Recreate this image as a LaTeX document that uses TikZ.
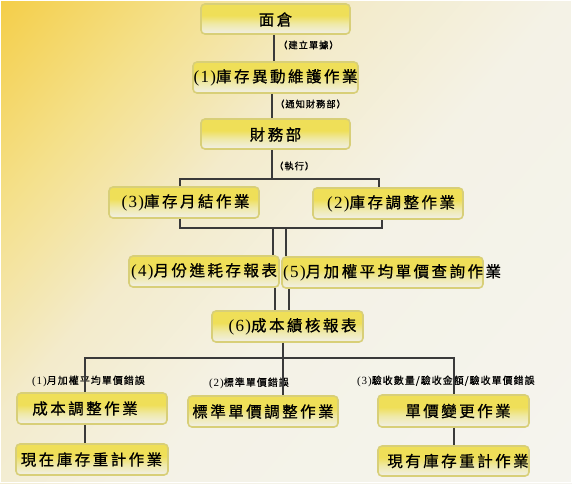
\documentclass[tikz,border=0pt]{standalone}
\usepackage{fontspec}
\setmainfont{Noto Sans CJK TC}
\newfontfamily\bigf[LetterSpace=16,FakeBold=0.8]{Noto Sans CJK TC}
\newfontfamily\smallf[LetterSpace=10,FakeBold=0.6]{Noto Sans CJK TC}
\newfontfamily\latf[LetterSpace=8]{Liberation Serif}
\definecolor{bgA}{HTML}{F4CE48}
\definecolor{bgB}{HTML}{F4E08A}
\definecolor{bgC}{HTML}{F3EBCB}
\definecolor{bgD}{HTML}{F4F2E6}
\definecolor{bgE}{HTML}{F5F4EF}
\definecolor{boxtop}{HTML}{EFDF58}
\definecolor{boxmid}{HTML}{EFE9A8}
\definecolor{boxbot}{HTML}{F1EFE4}
\definecolor{boxline}{HTML}{D8CF78}
\definecolor{wire}{HTML}{3A3A3A}
\pgfdeclarehorizontalshading{bgsh}{100bp}{color(0bp)=(bgA); color(25bp)=(bgA); color(34bp)=(bgB); color(43bp)=(bgC); color(53bp)=(bgD); color(75bp)=(bgE); color(100bp)=(bgE)}
\pgfdeclareverticalshading{boxsh}{100bp}{color(0bp)=(boxbot); color(26bp)=(boxbot); color(42bp)=(boxmid); color(56bp)=(boxtop); color(100bp)=(boxtop)}
\newcommand\pn[1]{{\latf\fontsize{17}{17}\selectfont #1}}
\newcommand\pns[1]{{\latf\fontsize{11}{11}\selectfont #1}}
\tikzset{
  boxst/.style={draw=boxline, line width=1.6pt, rounded corners=4pt, shade, shading=boxsh, inner sep=0pt},
  bt/.style={font=\bigf\fontsize{15.5}{15.5}\selectfont, inner sep=0pt},
  lbu/.style={font=\smallf\fontsize{9.3}{9.5}\selectfont, inner sep=0pt, anchor=west},
  lbl/.style={font=\smallf\fontsize{10}{10}\selectfont, inner sep=0pt, anchor=west},
  wirest/.style={draw=wire, line width=1.6pt}
}
\newcommand\bx[5]{\node[boxst, minimum width={#4-#2}, minimum height={#5-#3}] (#1) at ({(#2+#4)/2},{(#3+#5)/2}) {};}
\begin{document}
\begin{tikzpicture}[x=1pt,y=-1pt]
\useasboundingbox (0,0) rectangle (572,483);
\begin{scope}
\clip (0,0) rectangle (572,483);
\shade[transform canvas={rotate=-41}, shading=bgsh] (0,-400) rectangle (760,400);
\end{scope}
\draw[white, line width=1.2pt] (0.6,0.6) rectangle (571.4,482.4);
% boxes
\bx{A}{201}{4}{350}{34}
\bx{B}{193}{62}{358}{93}
\bx{C}{201}{119}{350}{149}
\bx{D}{109}{187}{259}{218}
\bx{E}{313}{188}{463}{219}
\bx{F}{129}{256}{279}{287}
\bx{G}{282}{257}{483}{288}
\bx{H}{212}{311}{363}{342}
\bx{I}{17}{393}{167}{424}
\bx{J}{188}{396}{338}{427}
\bx{K}{378}{395}{529}{427}
\bx{L}{16}{444}{168}{475}
\bx{M}{378}{446}{529}{476}
% box texts
\node[bt] (At) at (275.5,19.5) {面倉};
\node[bt] (Bt) at (275.5,77.5) {\pn{(1)}庫存異動維護作業};
\node[bt] (Ct) at (275.5,134.5) {財務部};
\node[bt] (Dt) at (185.5,202.5) {\pn{(3)}庫存月結作業};
\node[bt] (Et) at (391,203.5) {\pn{(2)}庫存調整作業};
\node[bt] (Ft) at (204,271.5) {\pn{(4)}月份進耗存報表};
\node[bt, anchor=west] (Gt) at (283,272.5) {\pn{(5)}月加權平均單價查詢作業};
\node[bt] (Ht) at (292.5,326.5) {\pn{(6)}成本績核報表};
\node[bt] (It) at (85,408.5) {成本調整作業};
\node[bt] (Jt) at (263,411.5) {標準單價調整作業};
\node[bt] (Kt) at (458,411) {單價變更作業};
\node[bt] (Lt) at (91.5,459.5) {現在庫存重計作業};
\node[bt] (Mt) at (458,461) {現有庫存重計作業};
% labels
\node[lbu] (l1) at (278,45) {（建立單據）};
\node[lbu] (l2) at (275,104) {（通知財務部）};
\node[lbu] (l3) at (274,166) {（執行）};
\node[lbl] (l4) at (32,381) {\pns{(1)}月加權平均單價錯誤};
\node[lbl] (l5) at (209,383) {\pns{(2)}標準單價錯誤};
\node[lbl] (l6) at (357,381) {\pns{(3)}驗收數量/驗收金額/驗收單價錯誤};
% bus coordinates
\coordinate (b1) at (272,179);
\coordinate (b2) at (272,228);
\coordinate (b3) at (283,358);
% connectors
\draw[wirest] (A.south -| 274,0) -- (B.north -| 274,0);
\draw[wirest] (B.south -| 272,0) -- (C.north -| 272,0);
\draw[wirest] (C.south -| b1) -- (b1);
\draw[wirest] (D.north -| 180,0) |- (b1) -| (E.north -| 379,0);
\draw[wirest] (D.south -| 180,0) |- (b2) -| (E.south -| 382,0);
\draw[wirest] (b2 -| 273,0) -- (F.north -| 273,0);
\draw[wirest] (b2 -| 286,0) -- (G.north -| 286,0);
\draw[wirest] (F.south -| 275,0) -- (H.north -| 275,0);
\draw[wirest] (G.south -| 289,0) -- (H.north -| 289,0);
\draw[wirest] (H.south -| b3) -- (b3);
\draw[wirest] (I.north -| 85,0) |- (b3) -| (K.north -| 454,0);
\draw[wirest] (b3) -- (J.north -| b3);
\draw[wirest] (I.south -| 85,0) -- (L.north -| 85,0);
\draw[wirest] (K.south -| 454,0) -- (M.north -| 454,0);
\end{tikzpicture}
\end{document}
